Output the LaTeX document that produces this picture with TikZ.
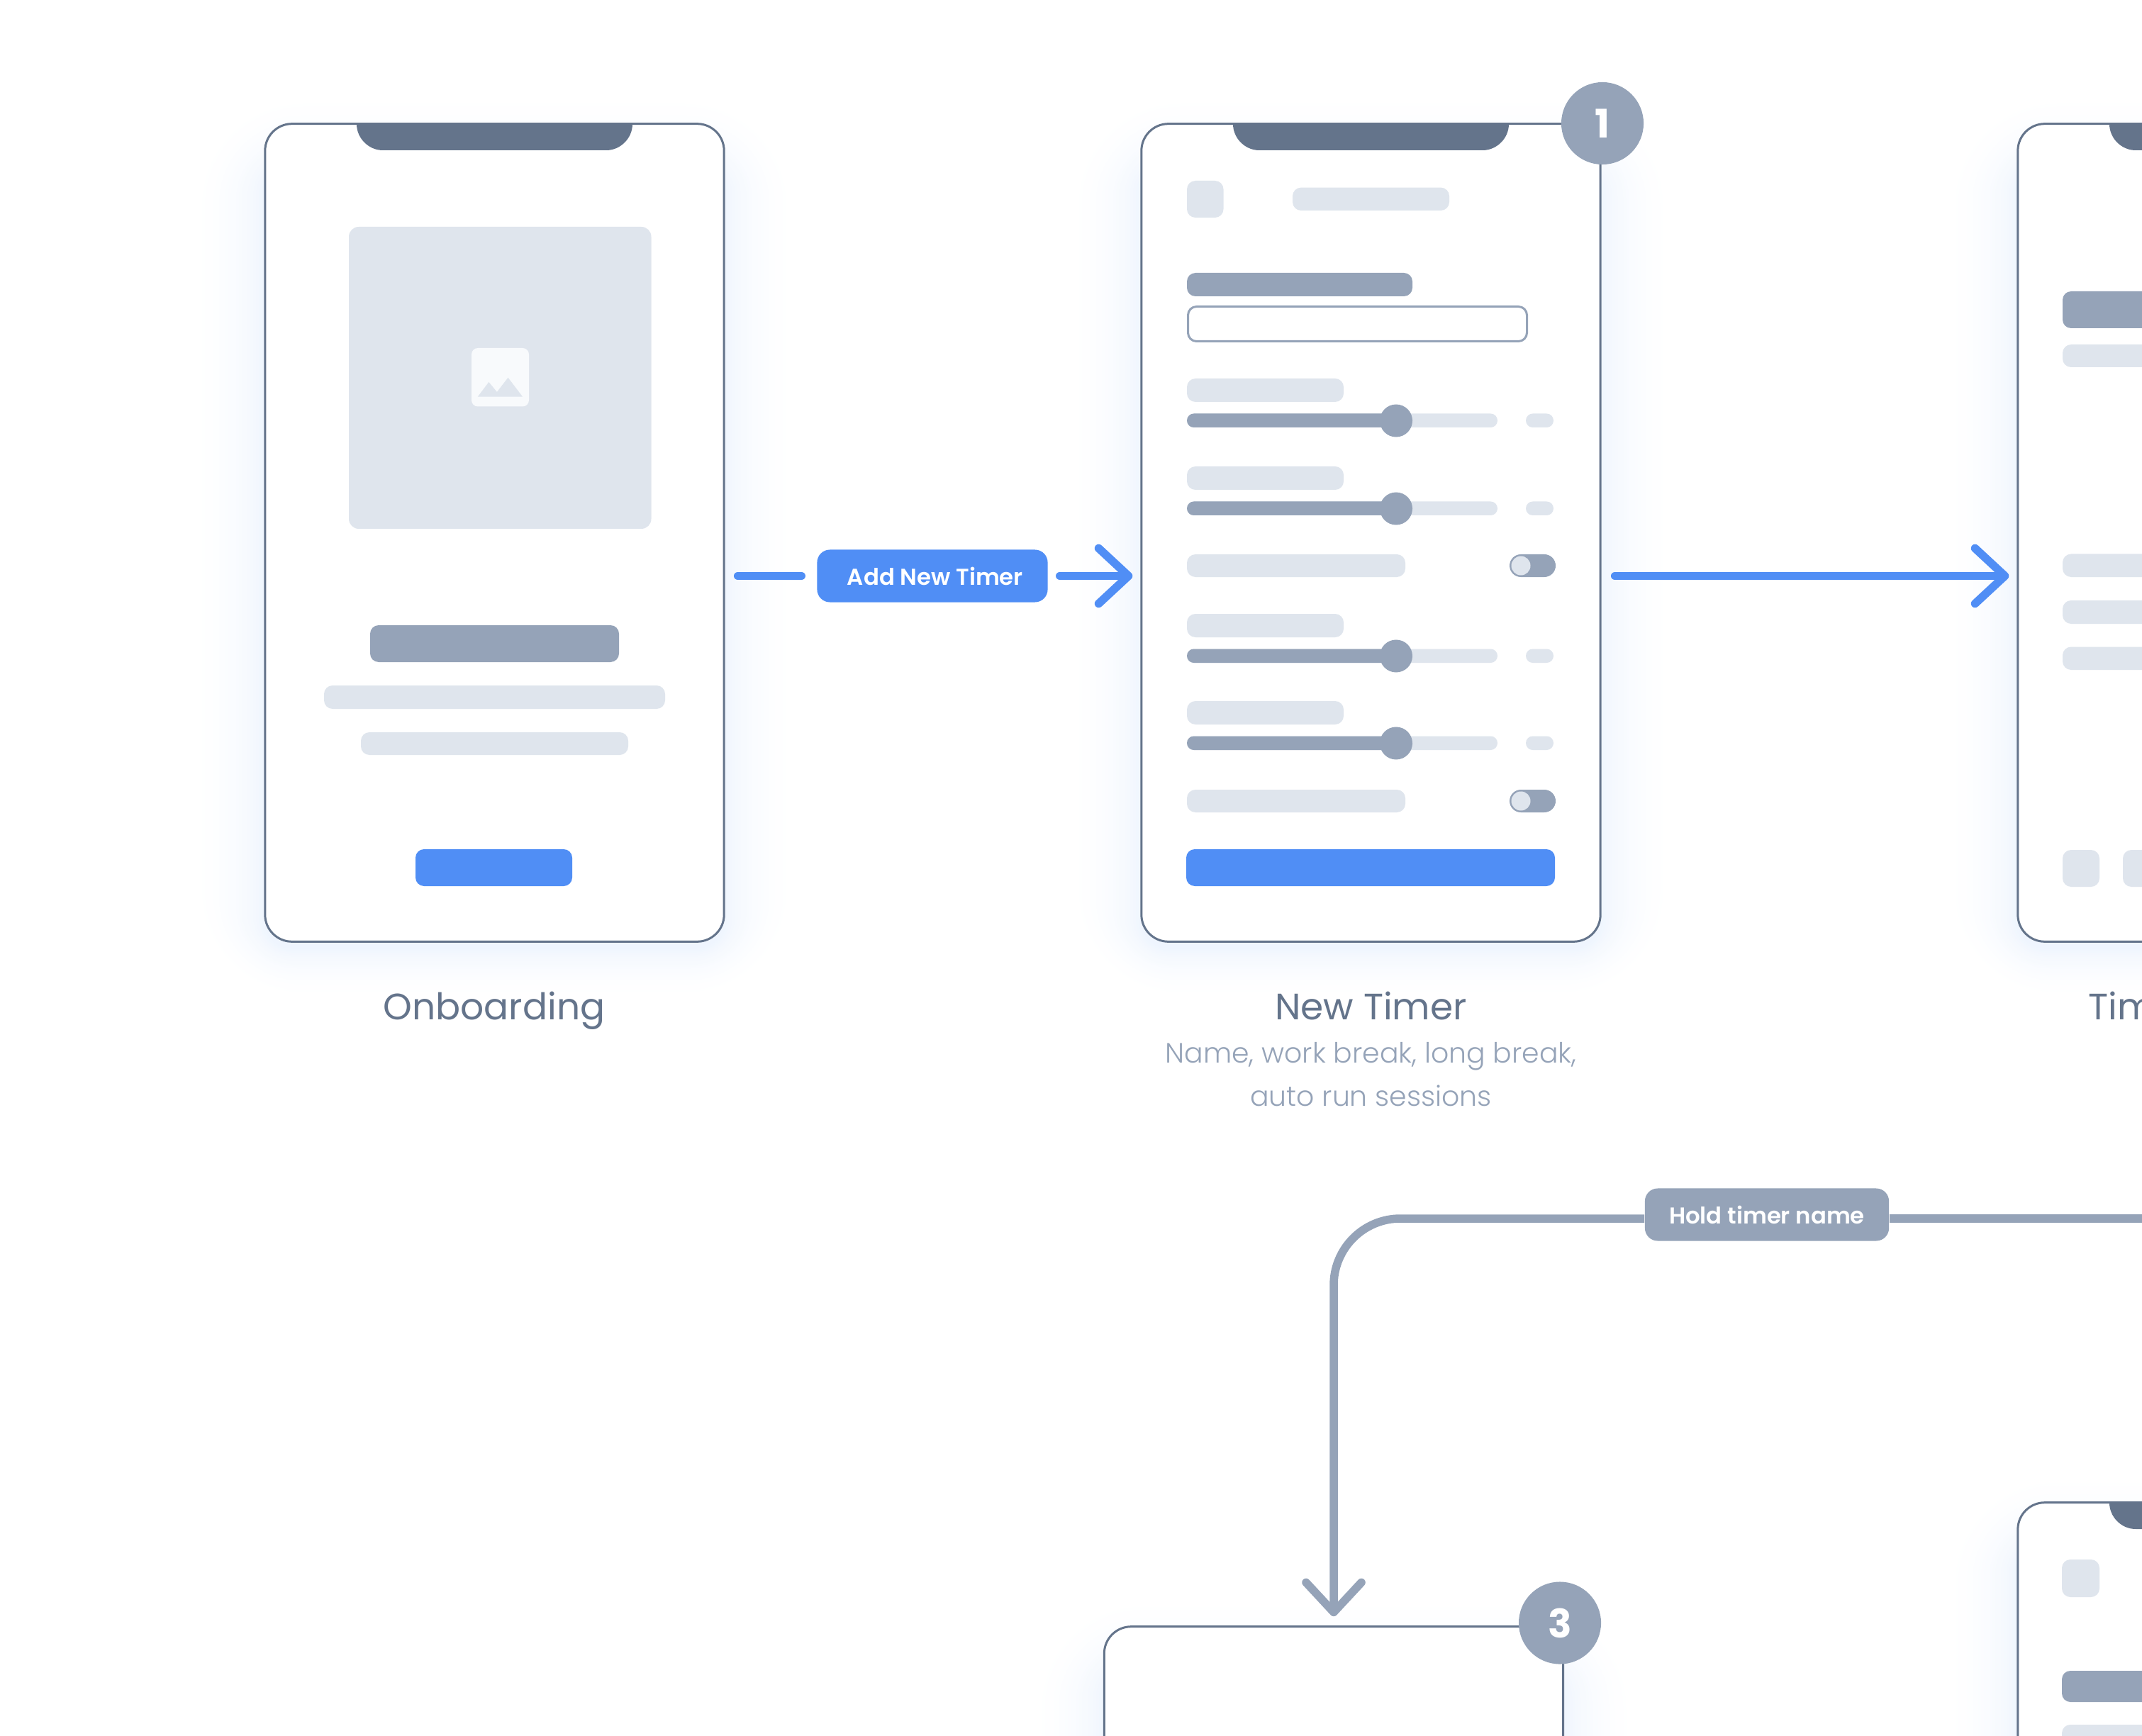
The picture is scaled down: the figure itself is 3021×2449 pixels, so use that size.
\documentclass[tikz,border=0pt]{standalone}
\usepackage{fontspec}
\setmainfont{Poppins}
\newfontfamily\popsemi{Poppins SemiBold}
\newfontfamily\poplight{Poppins Light}
\usetikzlibrary{arrows.meta,calc}
\definecolor{cdark}{HTML}{64748B}
\definecolor{cmid}{HTML}{95A3B8}
\definecolor{clight}{HTML}{DFE5ED}
\definecolor{cblue}{HTML}{508EF5}
\definecolor{cpale}{HTML}{F8FAFC}
\definecolor{cglow}{HTML}{EFF5FE}
\tikzset{
  phonebox/.style={draw=cdark,line width=0.03cm,fill=white,rounded corners=0.38cm,inner sep=0pt,minimum width=6.47cm,minimum height=11.53cm},
  badgedot/.style={circle,fill=cmid,text=white,minimum size=1.16cm,inner sep=0pt,font=\bfseries\fontsize{15.8}{16}\selectfont},
  flowlabel/.style={rounded corners=0.18cm,text=white,inner sep=0pt,minimum height=0.74cm,font=\popsemi\fontsize{9.2}{12}\selectfont},
  captionmain/.style={text=cdark,inner sep=0pt,anchor=base,font=\fontsize{14.75}{18}\selectfont},
  captionsub/.style={text=cmid,inner sep=0pt,font=\poplight\fontsize{11.2}{17.35}\selectfont},
  bluecon/.style={draw=cblue,line width=0.115cm,line cap=round},
  graycon/.style={draw=cmid,line width=0.115cm},
  headtip/.style={-{Straight Barb[length=4.2mm,width=7.8mm,round]}},
}
% shapes given by left, top, right, bottom in pixels
\newcommand{\ui}[6]{\fill[#5,rounded corners=#6 mm] (#1,#2) rectangle (#3,#4);}
\newcommand{\softglow}[2]{% left, top of a phone
  \foreach \e in {112,108,...,0}{
    \pgfmathsetmacro{\pct}{100*(1-\e/112)^2.2}
    \fill[cglow!\pct!white,rounded corners={(38+\e*1.2)*0.1mm}] ({#1-\e},{#2+60-\e}) rectangle ({#1+647+\e},{#2+1153+10+\e*0.7});
  }}
\newcommand{\notchbar}[2]{% left of notch, top of phone
  \fill[cdark] (#1,#2) .. controls (#1,{#2+20}) and ({#1+17},{#2+37}) .. ({#1+37},{#2+37}) -- ({#1+352},{#2+37}) .. controls ({#1+372},{#2+37}) and ({#1+389},{#2+20}) .. ({#1+389},#2) -- cycle;}
\newcommand{\sliderrow}[1]{% y of the label top; x fixed in the New Timer phone
  \ui{1674}{#1}{1895}{#1+33}{clight}{1.2}
  \ui{1674}{#1+49.5}{2112}{#1+69}{clight}{0.97}
  \ui{1674}{#1+49.5}{1969}{#1+69}{cmid}{0.97}
  \fill[cmid] (1969,{#1+59.5}) circle (0.23cm);
  \ui{2152}{#1+49.5}{2191}{#1+69}{clight}{0.97}}
\newcommand{\togglerow}[1]{% y of the row top
  \ui{1674}{#1}{1982}{#1+32}{clight}{1.2}
  \ui{2129}{#1}{2194}{#1+32}{cmid}{1.6}
  \fill[clight] (2145,{#1+16}) circle (0.135cm);}
\begin{document}
\begin{tikzpicture}[x=0.01cm,y=-0.01cm]
\clip (0,0) rectangle (3021,2449);
\fill[white] (0,0) rectangle (3021,2449);
% glows
\softglow{373.5}{175}
\softglow{1610}{175}
\softglow{2846}{175}
\softglow{1558}{2295}
\softglow{2846}{2120}
% phones
\node[phonebox] (pA) at (697.5,751.5) {};
\node[phonebox] (pB) at (1933.5,751.5) {};
\node[phonebox] (pC) at (3169.5,751.5) {};
\node[phonebox] (pD) at (1881,2871.5) {};
\node[phonebox] (pE) at (3169.5,2696.5) {};
\notchbar{503}{175}
\notchbar{1739}{175}
\notchbar{2975}{175}
\notchbar{2975}{2120}
% Onboarding content
\ui{492}{320}{918.5}{746}{clight}{1.4}
\ui{665}{491}{746}{573.5}{cpale}{0.9}
\fill[clight] (673.8,559.6) -- (689.4,539) -- (700.9,553) -- (716.5,532.7) -- (737,559.6) -- cycle;
\ui{522}{882}{873}{934}{cmid}{1.2}
\ui{457}{967}{938}{1000}{clight}{1.2}
\ui{509}{1033}{886}{1065}{clight}{1.2}
\ui{586}{1198}{807}{1250}{cblue}{1.2}
% New Timer content
\ui{1674}{255}{1725.5}{307}{clight}{1.2}
\ui{1823}{264.6}{2044}{297}{clight}{1.2}
\ui{1674}{385}{1992}{418}{cmid}{1.2}
\draw[cmid,line width=0.03cm,rounded corners=1.2mm,fill=white] (1675.5,432.5) rectangle (2153.5,481.5);
\sliderrow{534}
\sliderrow{658}
\togglerow{782}
\sliderrow{866}
\sliderrow{989}
\togglerow{1114}
\ui{1673}{1198}{2193}{1250}{cblue}{1.2}
% Third phone content
\ui{2909}{411}{3300}{463}{cmid}{1.2}
\ui{2909}{486}{3400}{518}{clight}{1.2}
\ui{2909}{781.5}{3400}{814}{clight}{1.2}
\ui{2909}{847}{3400}{880}{clight}{1.2}
\ui{2909}{912.5}{3400}{945}{clight}{1.2}
\ui{2909}{1199}{2961}{1251}{clight}{1.2}
\ui{2994}{1199}{3046}{1251}{clight}{1.2}
% Bottom right phone content
\ui{2908}{2200}{2961}{2253}{clight}{1.2}
\ui{2908}{2357}{3300}{2401}{cmid}{1.2}
\ui{2908}{2433}{3400}{2466}{clight}{1.2}
% badges
\node[badgedot] (bOne) at (2260,174) {1};
\node[badgedot] (bThree) at (2200,2289.5) {3};
% flow labels
\node[flowlabel,fill=cblue,minimum width=3.25cm] (lblAdd) at (1315,812.5) {\hspace*{0.08cm}Add New Timer};
\node[flowlabel,fill=cmid,minimum width=3.44cm] (lblHold) at (2492,1713.5) {Hold timer name};
\coordinate (holdCorner) at (1881,1719);
\coordinate (holdEnd) at (3021,1719);
% connectors
\draw[bluecon,shorten <=0.18cm,shorten >=0.215cm] (pA.east |- lblAdd.west) -- (lblAdd.west);
\draw[bluecon,headtip,shorten <=0.165cm,shorten >=0.11cm] (lblAdd.east) -- (pB.west |- lblAdd.east);
\draw[bluecon,headtip,shorten <=0.19cm,shorten >=0.11cm] (pB.east |- lblAdd.east) -- (pC.west |- lblAdd.east);
\draw[graycon] (lblHold.east |- holdEnd) -- (holdEnd);
\draw[graycon,headtip,rounded corners=9.4mm,shorten >=0.13cm] (lblHold.west |- holdCorner) -- (holdCorner) -- (holdCorner |- pD.north);
% captions
\node[captionmain] (capA) at (697,1438) {Onboarding};
\node[captionmain] (capB) at (1933.5,1438) {New Timer};
\node[captionsub,align=center] (capBsub) at (1933.5,1516) {Name, work break, long break,\\auto run sessions};
\node[captionmain,anchor=base west] (capC) at (2945,1438) {Timer};
\end{tikzpicture}
\end{document}
